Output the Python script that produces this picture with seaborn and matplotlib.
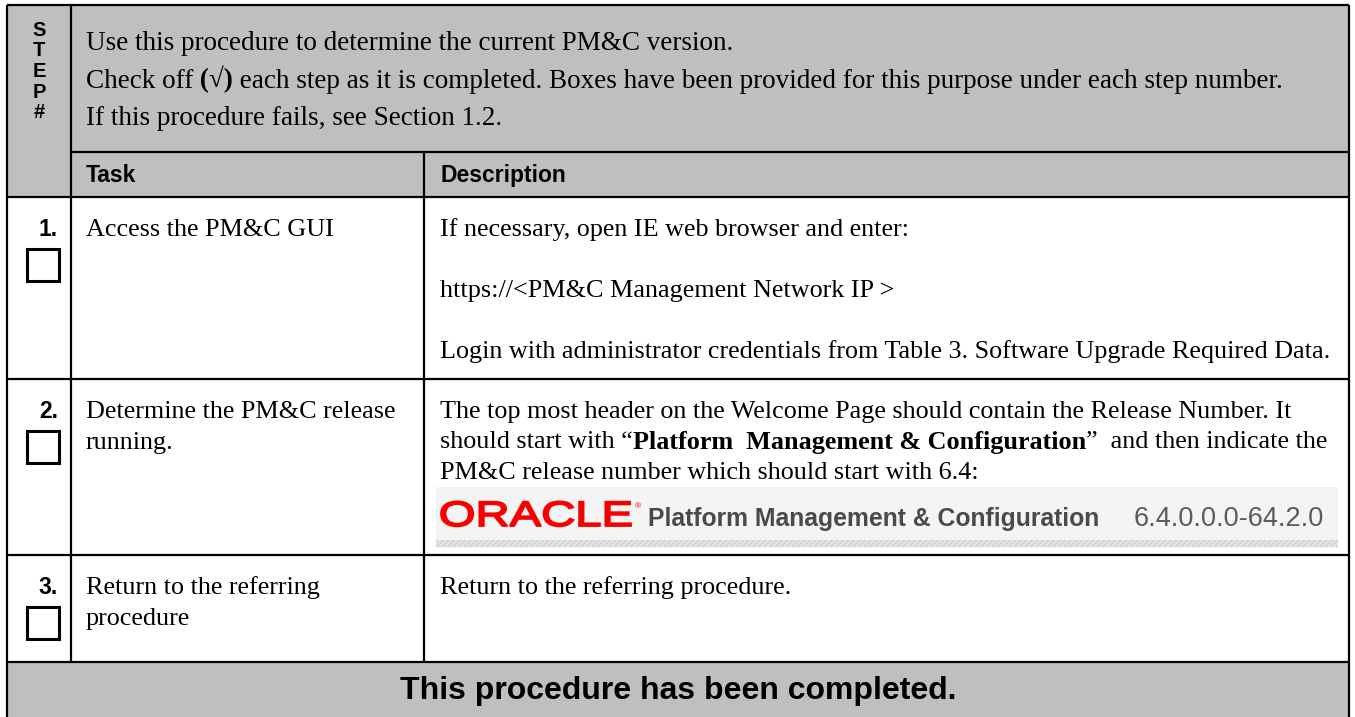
import matplotlib
matplotlib.use("Agg")
import matplotlib.pyplot as plt
import seaborn as sns
from matplotlib.patches import Rectangle, PathPatch
from matplotlib.textpath import TextPath
from matplotlib.font_manager import FontProperties
from matplotlib.transforms import Affine2D

sns.set_theme(style="white")
plt.rcParams['font.family'] = ['Liberation Sans', 'DejaVu Sans']
plt.rcParams['text.color'] = 'black'
SERIF = ['Liberation Serif', 'DejaVu Serif']

# table content
step_letters = ["S", "T", "E", "P", "#"]
intro_lines = [
    [("Use this procedure to determine the current PM&C version.", "normal")],
    [("Check off", "normal"), (" (√)", "bold"),
     (" each step as it is completed. Boxes have been provided for this purpose under each step number.", "normal")],
    [("If this procedure fails, see Section 1.2.", "normal")],
]
col_headers = ["Task", "Description"]
step_numbers = ["1.", "2.", "3."]
task_lines = [
    ["Access the PM&C GUI"],
    ["Determine the PM&C release", "running."],
    ["Return to the referring", "procedure"],
]
desc_lines = [
    [[("If necessary, open IE web browser and enter:", "normal")],
     [],
     [("https://<PM&C Management Network IP >", "normal")],
     [],
     [("Login with administrator credentials from Table 3. Software Upgrade Required Data.", "normal")]],
    [[("The top most header on the Welcome Page should contain the Release Number. It", "normal")],
     [("should start with “", "normal"), ("Platform  Management & Configuration", "bold"),
      ("”  and then indicate the", "normal")],
     [("PM&C release number which should start with 6.4:", "normal")]],
    [[("Return to the referring procedure.", "normal")]],
]
logo_word = "ORACLE"
banner_title = "Platform Management & Configuration"
banner_version = "6.4.0.0.0-64.2.0"
footer_text = "This procedure has been completed."

# layout in pixels
X_L, X_STEP, X_DIV, X_R = 7, 71, 424, 1349
Y_T, Y_INTRO, Y_HEAD = 5, 152, 197
row_edges = [197, 379, 555, 662]
Y_B = 717
GRAY = '#bfbfbf'
LW = 1.6

fig = plt.figure(figsize=(13.55, 7.17), dpi=100)
ax = fig.add_axes([0, 0, 1, 1])
ax.set_xlim(0, 1355)
ax.set_ylim(717, 0)
ax.axis('off')
renderer = fig.canvas.get_renderer()


def put_runs(x, y, runs, size=18.8):
    for txt, weight in runs:
        t = ax.text(x, y, txt, fontsize=size, fontweight=weight, family=SERIF,
                    va='baseline', ha='left', color='black')
        x += t.get_window_extent(renderer).width


# gray fills
ax.add_patch(Rectangle((X_L, Y_T), X_R - X_L, Y_HEAD - Y_T, fc=GRAY, ec='none'))
ax.add_patch(Rectangle((X_L, row_edges[-1]), X_R - X_L, Y_B - row_edges[-1] + 5, fc=GRAY, ec='none'))

# grid lines
ax.hlines(Y_T, X_L, X_R, color='black', lw=LW)
ax.hlines(Y_INTRO, X_STEP, X_R, color='black', lw=LW)
ax.hlines(row_edges, X_L, X_R, color='black', lw=LW)
ax.vlines([X_L, X_R], Y_T, Y_B + 5, color='black', lw=LW)
ax.vlines(X_STEP, Y_T, row_edges[-1], color='black', lw=LW)
ax.vlines(X_DIV, Y_INTRO, row_edges[-1], color='black', lw=LW)

# STEP # column
for i, ch in enumerate(step_letters):
    ax.text(39, 36 + i * 20.5, ch, fontsize=14.5, fontweight='bold', ha='center', va='baseline')

# intro text
for i, runs in enumerate(intro_lines):
    put_runs(86, 50 + i * 37.5, runs, size=19.5)

# column headers
ax.text(86, 182, col_headers[0], fontsize=16.5, fontweight='bold', va='baseline')
ax.text(440, 182, col_headers[1], fontsize=16.5, fontweight='bold', va='baseline')

# step rows
for r in range(3):
    top = row_edges[r]
    base = top + 39
    ax.text(58, base, step_numbers[r], fontsize=16.5, fontweight='bold', ha='right', va='baseline')
    ax.add_patch(Rectangle((27, top + 52), 32, 32, fc='white', ec='black', lw=2.2))
    for j, line in enumerate(task_lines[r]):
        ax.text(86, base + j * 30.5, line, fontsize=18.8, family=SERIF, va='baseline')
    for j, runs in enumerate(desc_lines[r]):
        put_runs(440, base + j * 30.5, runs)

# screenshot banner in row 2
ax.add_patch(Rectangle((436, 487), 902, 61, fc='#f4f4f4', ec='none'))
ax.add_patch(Rectangle((436, 540), 902, 7, fc='#e4e4e4', ec='#d2d2d2', lw=0, hatch='//////'))
tp = TextPath((0, 0), logo_word, size=1, prop=FontProperties(family='Liberation Sans'))
ext = tp.get_extents()
sx, sy = 190 / ext.width, 25 / ext.height
path = Affine2D().translate(-ext.x0, 0).scale(sx, -sy).translate(441, 526).transform_path(tp)
ax.add_patch(PathPatch(path, fc='#f80000', ec='#f80000', lw=1.3))
ax.text(635, 508, "®", fontsize=6, color='#f80000', va='baseline')
ax.text(648, 526, banner_title, fontsize=17.8, fontweight='bold', color='#4a4a4a', va='baseline')
ax.text(1134, 526, banner_version, fontsize=19.5, color='#5a5a5a', va='baseline')

# footer
ax.text(678, 699, footer_text, fontsize=23, fontweight='bold', ha='center', va='baseline')

fig.savefig('out.png', dpi=100)
